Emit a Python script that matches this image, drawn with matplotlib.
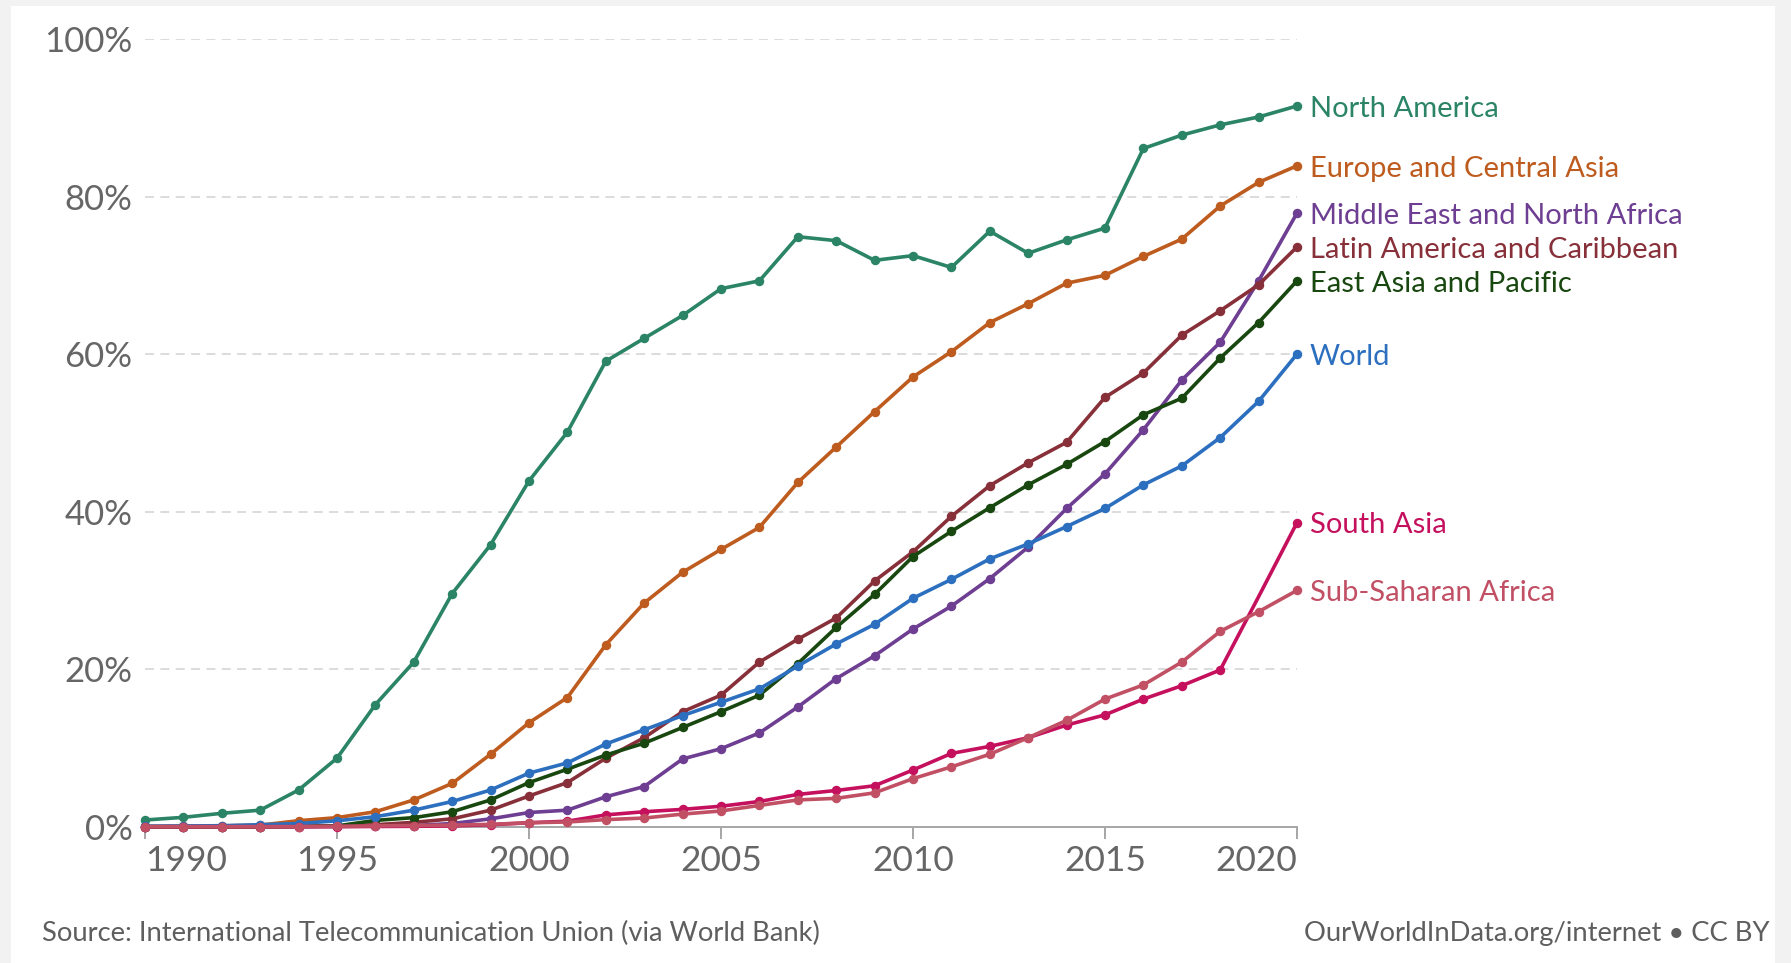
import matplotlib
matplotlib.use("Agg")
import matplotlib.pyplot as plt
from matplotlib.patches import Rectangle

years = list(range(1990, 2021))

north_america = [0.85, 1.19, 1.7, 2.1, 4.66, 8.7, 15.5, 20.9, 29.6, 35.8, 43.9,
                 50.1, 59.1, 62.0, 64.9, 68.3, 69.3, 74.9, 74.4, 71.9, 72.5,
                 71.0, 75.6, 72.8, 74.5, 76.0, 86.1, 87.8, 89.1, 90.1, 91.5]
europe_central_asia = [0.02, 0.05, 0.1, 0.2, 0.76, 1.15, 1.9, 3.4, 5.5, 9.2, 13.2,
                       16.4, 23.1, 28.4, 32.3, 35.2, 38.0, 43.7, 48.2, 52.7, 57.1,
                       60.3, 64.0, 66.4, 69.0, 70.0, 72.4, 74.6, 78.8, 81.8, 83.9]
middle_east_north_africa = [0, 0, 0, 0, 0.01, 0.03, 0.08, 0.15, 0.4, 1.0, 1.8,
                            2.1, 3.8, 5.1, 8.6, 9.9, 11.9, 15.2, 18.8, 21.7, 25.1,
                            28.0, 31.5, 35.5, 40.4, 44.8, 50.4, 56.7, 61.5, 69.3, 77.9]
latin_america_caribbean = [0, 0, 0.01, 0.02, 0.05, 0.1, 0.25, 0.55, 1.0, 2.1, 3.9,
                           5.6, 8.7, 11.3, 14.6, 16.7, 20.9, 23.8, 26.5, 31.2, 34.9,
                           39.4, 43.3, 46.2, 48.8, 54.5, 57.6, 62.4, 65.5, 68.8, 73.6]
east_asia_pacific = [0, 0, 0, 0.01, 0.03, 0.1, 0.8, 1.15, 1.9, 3.4, 5.6,
                     7.3, 9.1, 10.6, 12.6, 14.6, 16.7, 20.7, 25.3, 29.5, 34.3,
                     37.5, 40.5, 43.4, 46.0, 48.9, 52.3, 54.4, 59.5, 64.0, 69.3]
world = [0.05, 0.08, 0.13, 0.25, 0.4, 0.75, 1.27, 2.1, 3.2, 4.66, 6.8,
         8.1, 10.5, 12.3, 14.1, 15.8, 17.5, 20.4, 23.2, 25.7, 29.0,
         31.4, 34.0, 35.9, 38.1, 40.4, 43.4, 45.8, 49.4, 54.0, 60.0]
south_asia = [0, 0, 0, 0, 0, 0.01, 0.03, 0.05, 0.1, 0.25, 0.5,
              0.7, 1.5, 1.9, 2.2, 2.6, 3.2, 4.1, 4.6, 5.2, 7.2,
              9.3, 10.2, 11.3, 12.9, 14.2, 16.2, 17.9, 19.9, 29.2, 38.6]
sub_saharan_africa = [0, 0, 0, 0, 0.01, 0.05, 0.1, 0.15, 0.2, 0.3, 0.5,
                      0.6, 0.9, 1.1, 1.6, 2.0, 2.7, 3.4, 3.6, 4.3, 6.1,
                      7.6, 9.2, 11.3, 13.5, 16.2, 18.0, 20.9, 24.8, 27.3, 30.0]

series_names = ["North America", "Europe and Central Asia", "Middle East and North Africa",
                "Latin America and Caribbean", "East Asia and Pacific", "World",
                "South Asia", "Sub-Saharan Africa"]
series_values = [north_america, europe_central_asia, middle_east_north_africa,
                 latin_america_caribbean, east_asia_pacific, world,
                 south_asia, sub_saharan_africa]
series_colors = ["#2A8465", "#BE5B1E", "#6D3E91", "#883039", "#18470F", "#2C6FBF",
                 "#C5105E", "#C15065"]

y_ticks = [0, 20, 40, 60, 80, 100]
y_tick_labels = ["0%", "20%", "40%", "60%", "80%", "100%"]
x_ticks = [1990, 1995, 2000, 2005, 2010, 2015, 2020]

plt.rcParams['font.family'] = ['Lato', 'DejaVu Sans']

W, H = 1791, 963
fig = plt.figure(figsize=(W / 100, H / 100), dpi=100)
fig.patch.set_facecolor("#f2f2f2")
fig.patches.append(Rectangle((11 / W, 0), (W - 16 - 11) / W, (H - 6) / H,
                             transform=fig.transFigure, facecolor="white",
                             edgecolor="none", zorder=-10))

left, right = 145 / W, 1297 / W
bottom, top = (H - 826.7) / H, (H - 39) / H
ax = fig.add_axes([left, bottom, right - left, top - bottom])
ax.set_zorder(5)
ax.set_facecolor("none")
ax.set_xlim(1990, 2020)
ax.set_ylim(0, 100)

for v in y_ticks[1:]:
    ax.axhline(v, color="#d9d9d9", lw=1.3, ls=(0, (5, 3.5)), zorder=1)

for name, vals, col in zip(series_names, series_values, series_colors):
    mk = list(range(len(years)))
    if name == "South Asia":
        mk.remove(len(years) - 2)
    ax.plot(years, vals, color=col, lw=2.6, marker="o", ms=5.8, zorder=3,
            markevery=mk, clip_on=False, solid_joinstyle="round")
    ax.annotate(name, xy=(years[-1], vals[-1]), xytext=(9, -2),
                textcoords="offset points", color=col, fontsize=21,
                va="center", ha="left", annotation_clip=False)

for s in ["top", "right", "left"]:
    ax.spines[s].set_visible(False)
ax.spines["bottom"].set_color("#a6a6a6")
ax.spines["bottom"].set_linewidth(1.4)

ax.set_yticks(y_ticks)
ax.set_yticklabels(y_tick_labels)
ax.tick_params(axis="y", length=0, pad=9, labelsize=25, labelcolor="#666666")
ax.set_xticks(x_ticks)
ax.set_xticklabels([str(x) for x in x_ticks])
ax.tick_params(axis="x", length=8.5, width=1.4, color="#a6a6a6", pad=5,
               labelsize=25.5, labelcolor="#666666")
xl = ax.get_xticklabels()
xl[0].set_ha("left")
xl[-1].set_ha("right")

fig.text(42 / W, (H - 941) / H,
         "Source: International Telecommunication Union (via World Bank)",
         fontsize=19.7, color="#5e5e5e", ha="left", va="baseline")
fig.text(1770 / W, (H - 941) / H, "OurWorldInData.org/internet \u2022 CC BY",
         fontsize=19.7, color="#5e5e5e", ha="right", va="baseline")

fig.savefig("out.png", dpi=100, facecolor=fig.get_facecolor())
